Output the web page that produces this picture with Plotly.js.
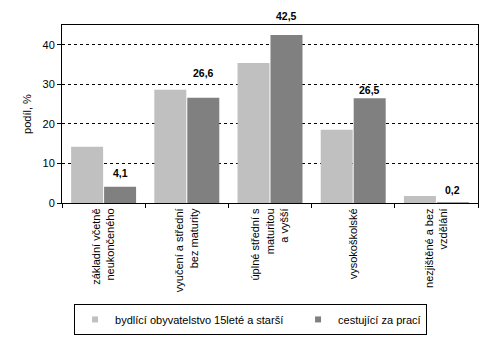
<!DOCTYPE html>
<html><head><meta charset="utf-8">
<script src="https://cdn.plot.ly/plotly-3.0.1.min.js"></script>
<style>html,body{margin:0;padding:0;background:#fff}#c{width:493px;height:339px}</style>
</head><body><div id="c"></div>
<script>
const categories = ["základní včetně<br>neukončeného", "vyučení a střední<br>bez maturity", "úplné střední s<br>maturitou<br>a vyšší", "vysokoškolské", "nezjištěné a bez<br>vzdělání"];
const seriesNames = ["bydlící obyvatelstvo 15leté a starší", "cestující za prací"];
const residents = [14.2, 28.6, 35.4, 18.5, 1.8];
const commuters = [4.1, 26.6, 42.5, 26.5, 0.2];
const yTicks = [0, 10, 20, 30, 40];

// style: vertical offset (px) of each value label above its bar, as placed in the original
const labelLift = [6, 17, 11, 0, 4];

const fam = "Liberation Sans, Arial, sans-serif";
const font = {family: fam, size: 11, color: "#000"};
const colors = ["#C0C0C0", "#808080"];

const data = [
  {type: "bar", x: categories, y: residents, name: seriesNames[0], marker: {color: colors[0]}, showlegend: false},
  {type: "bar", x: categories, y: commuters, name: seriesNames[1], marker: {color: colors[1]}, showlegend: false},
  // legend entries with small square keys
  {type: "scatter", mode: "markers", x: [null], y: [null], name: seriesNames[0],
   marker: {symbol: "square", size: 6, color: colors[0]}, legendwidth: 178, hoverinfo: "skip"},
  {type: "scatter", mode: "markers", x: [null], y: [null], name: seriesNames[1],
   marker: {symbol: "square", size: 6, color: colors[1]}, hoverinfo: "skip"}
];

const annotations = commuters.map((v, i) => ({
  xref: "x", yref: "y", x: categories[i], y: v,
  text: v.toFixed(1).replace(".", ","), showarrow: false,
  xanchor: "center", yanchor: "bottom", xshift: 16.5, yshift: labelLift[i],
  font: {family: fam, size: 10.5, color: "#000", weight: "bold"}
}));

const layout = {
  width: 493, height: 339,
  margin: {l: 62, r: 15, t: 25, b: 136, autoexpand: false},
  paper_bgcolor: "#fff", plot_bgcolor: "#fff",
  font: font,
  separators: ",.",
  barmode: "group", bargap: 0.207, bargroupgap: 0.03,
  showlegend: true,
  annotations: annotations,
  legend: {orientation: "h", x: 0.029, xanchor: "left", y: -0.567, yanchor: "top",
    bordercolor: "#000", borderwidth: 1, font: font, traceorder: "normal"},
  xaxis: {type: "category", showline: true, linecolor: "#000", linewidth: 1, mirror: true,
    ticks: "outside", tickson: "boundaries", ticklen: 4, tickcolor: "#000",
    tickangle: -90, tickfont: font, showgrid: false, fixedrange: true, automargin: false},
  yaxis: {range: [0, 45], tickvals: yTicks, showline: true, linecolor: "#000", linewidth: 1, mirror: true,
    ticks: "outside", ticklen: 4, tickcolor: "#000", tickfont: font,
    showgrid: true, gridcolor: "#000", gridwidth: 1, griddash: "3px,3px",
    zeroline: false, title: {text: "podíl, %", font: font, standoff: 8}, fixedrange: true, automargin: false}
};
Plotly.newPlot("c", data, layout, {staticPlot: true});
</script></body></html>
